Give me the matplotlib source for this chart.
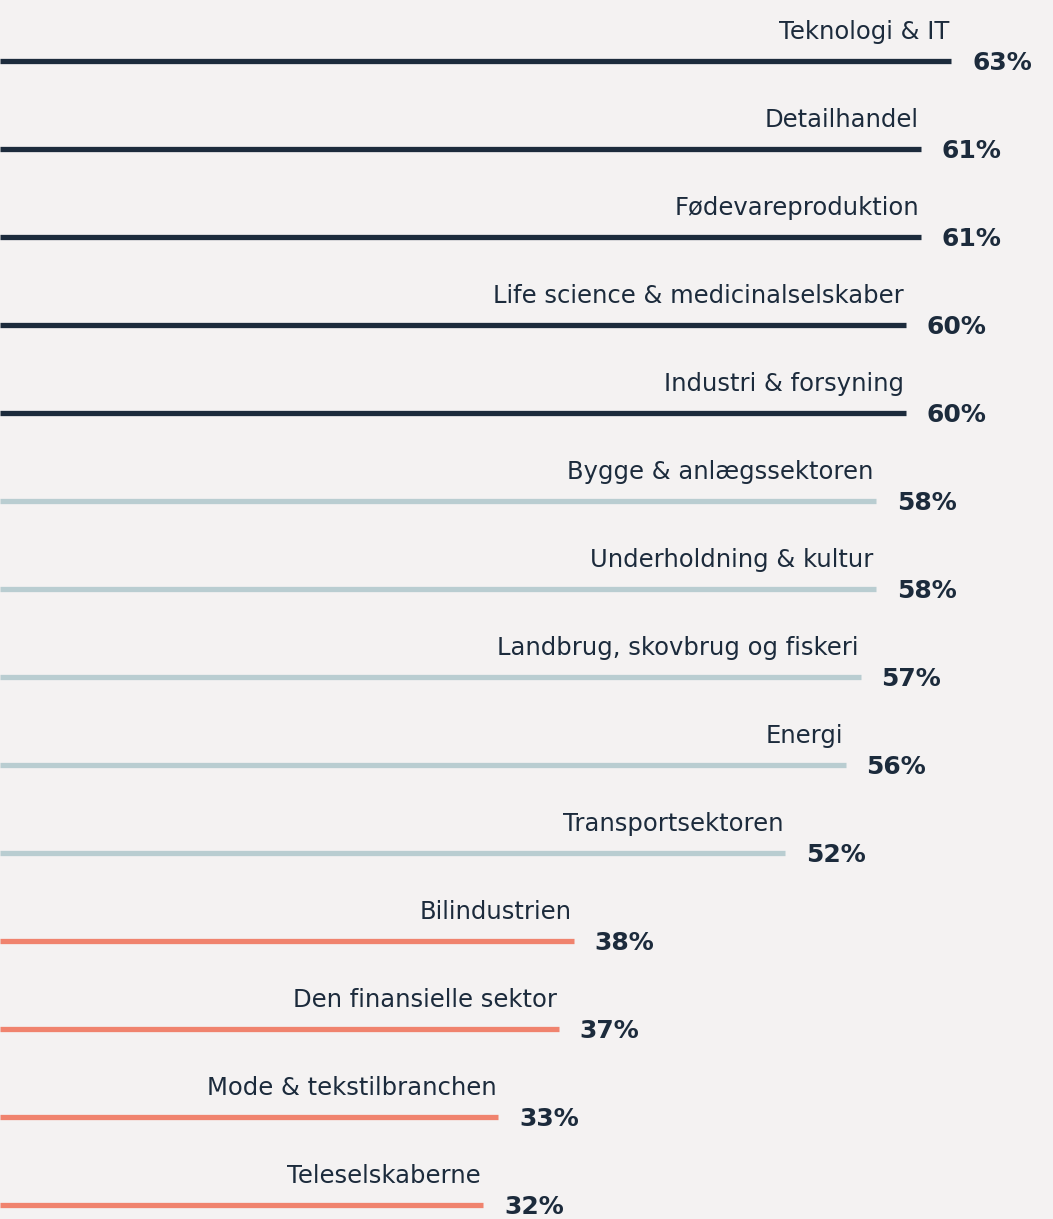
import matplotlib.pyplot as plt

# Sector shares
sectors = [
    "Teknologi & IT", "Detailhandel", "Fødevareproduktion",
    "Life science & medicinalselskaber", "Industri & forsyning",
    "Bygge & anlægssektoren", "Underholdning & kultur",
    "Landbrug, skovbrug og fiskeri", "Energi", "Transportsektoren",
    "Bilindustrien", "Den finansielle sektor", "Mode & tekstilbranchen",
    "Teleselskaberne",
]
shares = [63, 61, 61, 60, 60, 58, 58, 57, 56, 52, 38, 37, 33, 32]
groups = ["high"] * 5 + ["mid"] * 5 + ["low"] * 4

group_colours = {"high": "#1c2b3c", "mid": "#b9cdd1", "low": "#f0836e"}
bg = "#f4f2f2"
text_col = "#1c2b3c"

W, H, DPI = 1053, 1219, 100
px_per_pct = 15.1
row_px, first_row_px = 88.0, 61.0

fig = plt.figure(figsize=(W / DPI, H / DPI), dpi=DPI)
fig.patch.set_facecolor(bg)
ax = fig.add_axes([0, 0, 1, 1])
ax.set_facecolor(bg)
ax.set_xlim(0, W / px_per_pct)
ax.set_ylim((H - first_row_px) / row_px, -first_row_px / row_px)
ax.axis("off")

for i, (name, val, grp) in enumerate(zip(sectors, shares, groups)):
    ax.plot([0, val], [i, i], color=group_colours[grp], lw=3.8,
            solid_capstyle="butt")
    ax.annotate(name, (val, i), xytext=(-1.5, 15.5), textcoords="offset points",
                ha="right", va="baseline", fontsize=17.5, color=text_col,
                family="DejaVu Sans", fontweight="normal")
    ax.annotate(f"{val}%", (val, i), xytext=(15, -1.5), textcoords="offset points",
                ha="left", va="center", fontsize=18, color=text_col,
                family="DejaVu Sans", fontweight="bold")

fig.savefig("out.png", dpi=DPI, facecolor=fig.get_facecolor())
